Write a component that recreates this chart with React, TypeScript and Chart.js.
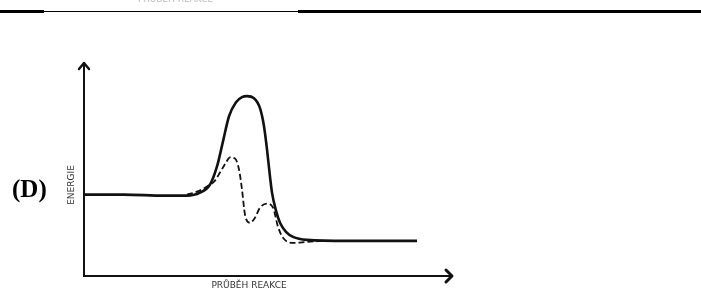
import React, { useEffect, useRef } from "react";
import { Chart, registerables } from "chart.js";

Chart.register(...registerables);

// Reaction progress (arbitrary units) and energy (arbitrary units)
const uncatalysedX = [0, 40, 80, 103, 116, 126, 133, 139, 145, 152, 158, 163, 170, 176, 180, 183, 186, 188, 192, 196, 202, 209, 223, 263, 333];
const uncatalysedY = [81, 81, 80, 80, 83, 91, 109, 134, 159, 173, 178, 179, 177, 167, 149, 126, 99, 83, 65, 53, 44, 39, 36, 35, 35];
const catalysedX = [103, 113, 123, 131, 136, 142, 146, 151, 155, 158, 161, 166, 171, 176, 183, 189, 194, 199, 209, 223, 240];
const catalysedY = [81, 84, 89, 95, 103, 113, 118, 117, 106, 86, 61, 53, 58, 68, 72, 68, 49, 38, 33, 34, 35];

const xTitle = "PRŮBĚH REAKCE";
const yTitle = "ENERGIE";
const panelLabel = "(D)";

const toPoints = (xs: number[], ys: number[]) => xs.map((x, i) => ({ x, y: ys[i] }));

const decorPlugin = {
  id: "decor",
  afterDraw(chart: any) {
    const ctx = chart.ctx as CanvasRenderingContext2D;
    const xs = chart.scales.x;
    const ys = chart.scales.y;
    const left = xs.left;
    const right = xs.right;
    const top = ys.top;
    const bottom = ys.bottom;
    ctx.save();
    // arrows
    ctx.strokeStyle = "#111";
    ctx.lineWidth = 2.4;
    ctx.lineCap = "round";
    ctx.lineJoin = "round";
    ctx.beginPath();
    ctx.moveTo(left - 5, top + 6);
    ctx.lineTo(left, top);
    ctx.lineTo(left + 5, top + 6);
    ctx.stroke();
    ctx.lineWidth = 3;
    ctx.beginPath();
    ctx.moveTo(right - 6, bottom - 6);
    ctx.lineTo(right, bottom);
    ctx.lineTo(right - 6, bottom + 6);
    ctx.stroke();
    // axis titles
    ctx.fillStyle = "#333";
    ctx.font = "9px 'DejaVu Sans', sans-serif";
    ctx.textAlign = "center";
    ctx.textBaseline = "middle";
    ctx.fillText(xTitle, 249, 286);
    ctx.save();
    ctx.translate(72, 185);
    ctx.rotate(-Math.PI / 2);
    ctx.fillText(yTitle, 0, 0);
    ctx.restore();
    // panel label
    ctx.fillStyle = "#000";
    ctx.font = "bold 25px 'Liberation Serif', serif";
    ctx.textAlign = "left";
    ctx.fillText(panelLabel, 12, 191);
    // top rule (edge of previous panel)
    ctx.fillStyle = "#000";
    ctx.fillRect(0, 10, 44, 3);
    ctx.fillRect(298, 10, 403, 3);
    ctx.fillRect(44, 11, 254, 1);
    ctx.fillStyle = "rgba(120,120,120,0.5)";
    ctx.font = "9px 'DejaVu Sans', sans-serif";
    ctx.textBaseline = "alphabetic";
    ctx.textAlign = "left";
    ctx.fillText(xTitle, 138, 2);
    ctx.restore();
  },
};

export default function App() {
  const ref = useRef<HTMLCanvasElement>(null);
  useEffect(() => {
    if (!ref.current) return;
    const chart = new Chart(ref.current, {
      type: "line",
      data: {
        datasets: [
          {
            data: toPoints(uncatalysedX, uncatalysedY),
            borderColor: "#111",
            borderWidth: 2.6,
            pointRadius: 0,
            cubicInterpolationMode: "monotone",
            fill: false,
          },
          {
            data: toPoints(catalysedX, catalysedY),
            borderColor: "#111",
            borderWidth: 1.8,
            borderDash: [6, 3],
            pointRadius: 0,
            cubicInterpolationMode: "monotone",
            fill: false,
          },
        ],
      },
      options: {
        responsive: false,
        animation: false,
        layout: { padding: { left: 76, top: 63, right: 249, bottom: 18 } },
        plugins: { legend: { display: false }, tooltip: { enabled: false } },
        scales: {
          x: {
            type: "linear",
            min: 0,
            max: 368,
            ticks: { display: false },
            grid: { display: false },
            border: { display: true, color: "#111", width: 2 },
          },
          y: {
            type: "linear",
            min: 0,
            max: 212,
            ticks: { display: false },
            grid: { display: false },
            border: { display: true, color: "#111", width: 2 },
          },
        },
      },
      plugins: [decorPlugin],
    });
    return () => chart.destroy();
  }, []);
  return (
    <div style={{ position: "absolute", left: 0, top: 0, width: 701, height: 302, background: "#fff" }}>
      <canvas ref={ref} width={701} height={302} />
    </div>
  );
}
